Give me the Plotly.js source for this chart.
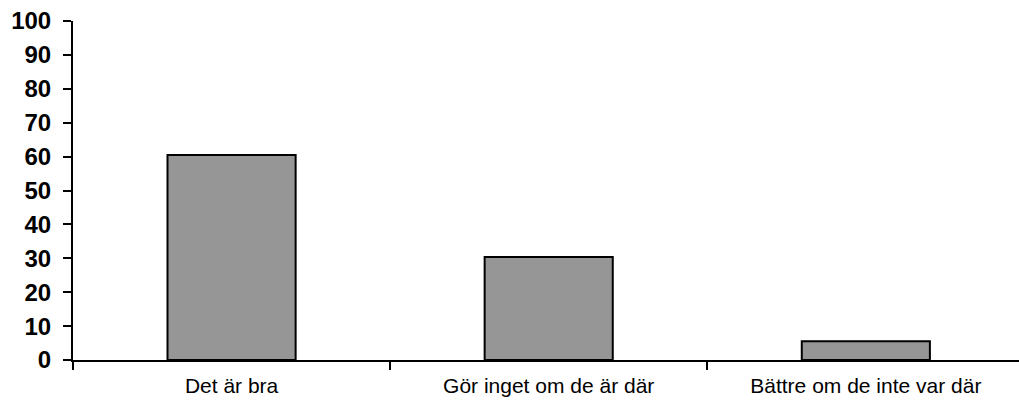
<!DOCTYPE html>
<html>
<head>
<meta charset="utf-8">
<script src="https://cdn.plot.ly/plotly-3.0.1.min.js"></script>
<style>
  html, body { margin: 0; padding: 0; background: #ffffff; }
  #chart { width: 1019px; height: 401px; }
</style>
</head>
<body>
<div id="chart"></div>
<script>
// Svarsalternativ och andel svar (%)
const categories = ["Det är bra", "Gör inget om de är där", "Bättre om de inte var där"];
const shares = [60.5, 30.4, 5.5];
const yTicks = [0, 10, 20, 30, 40, 50, 60, 70, 80, 90, 100];

// x-området slutar strax före sista kategorigränsen (axeln går ut till kanten)
const xRange = [-0.5, 2.483];

const trace = {
  type: "bar",
  x: [0, 1, 2],
  y: shares,
  width: 0.404,
  marker: {
    color: "#969696",
    line: { color: "#000000", width: 2 }
  },
  hoverinfo: "skip"
};

const layout = {
  width: 1019,
  height: 401,
  margin: { l: 73, r: 0, t: 21, b: 41 },
  paper_bgcolor: "#ffffff",
  plot_bgcolor: "#ffffff",
  showlegend: false,
  xaxis: {
    range: xRange,
    tickmode: "array",
    tickvals: [0, 1, 2],
    ticktext: categories,
    ticks: "",
    ticklabelstandoff: 11,
    showgrid: false,
    zeroline: false,
    showline: false,
    tickfont: { family: "Liberation Sans, Arial, sans-serif", size: 21, color: "#000000" },
    fixedrange: true
  },
  xaxis2: {
    overlaying: "x",
    range: xRange,
    tickmode: "array",
    tickvals: [-0.5, 0.5, 1.5],
    showticklabels: false,
    ticks: "outside",
    ticklen: 8,
    tickwidth: 2,
    tickcolor: "#000000",
    showgrid: false,
    zeroline: false,
    showline: true,
    linecolor: "#000000",
    linewidth: 2,
    anchor: "y",
    side: "bottom",
    fixedrange: true
  },
  yaxis: {
    range: [0, 100],
    tickmode: "array",
    tickvals: yTicks,
    ticktext: yTicks.map(String),
    ticks: "outside",
    ticklen: 8,
    tickwidth: 2,
    tickcolor: "#000000",
    ticklabelstandoff: 7,
    showgrid: false,
    zeroline: false,
    showline: true,
    linecolor: "#000000",
    linewidth: 2,
    tickfont: { family: "Liberation Sans, Arial, sans-serif", size: 24, color: "#000000", weight: "bold" },
    fixedrange: true
  }
};

// tom spår så att den andra x-axeln (linje och delstreck) ritas
const axisTrace = { type: "scatter", x: [-0.5], y: [0], xaxis: "x2", yaxis: "y", mode: "none", hoverinfo: "skip" };

Plotly.newPlot("chart", [trace, axisTrace], layout, { displayModeBar: false, staticPlot: true });
</script>
</body>
</html>
